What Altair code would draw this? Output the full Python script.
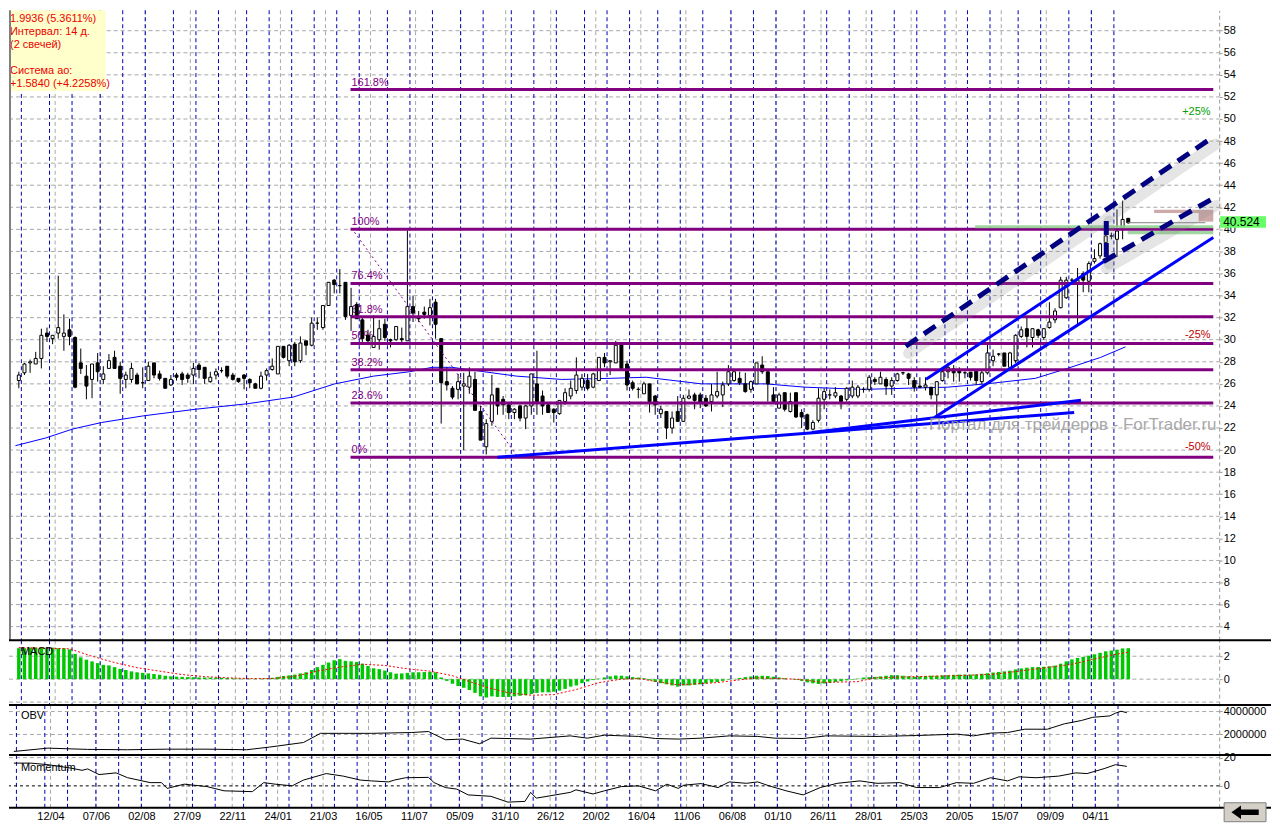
import altair as alt
import pandas as pd

# ---------------- data ----------------
date_labels = ["12/04", "07/06", "02/08", "27/09", "22/11", "24/01", "21/03", "16/05",
               "11/07", "05/09", "31/10", "26/12", "20/02", "16/04", "11/06", "06/08",
               "01/10", "26/11", "28/01", "25/03", "20/05", "15/07", "09/09", "04/11"]
label_first = 6
label_step = 8
month_starts = [0, 5, 9, 14, 18, 22, 27, 31, 35, 40, 44, 48, 52, 56, 60, 65, 69, 73, 78, 82,
                87, 91, 95, 100, 104, 108, 113, 117, 121, 126, 130, 134, 139, 143, 147, 151,
                155, 159, 164, 168, 172, 177, 181, 186, 190, 194]
grid_shift = 0.45

opens = [26.3, 27.0, 27.9, 27.8, 28.3, 30.6, 30.1, 30.6, 30.3, 30.9,
         30.2, 27.9, 26.7, 26.4, 27.9, 26.4, 27.4, 28.4, 27.6, 26.4,
         26.4, 26.8, 26.1, 26.3, 27.9, 26.9, 26.5, 25.9, 26.8, 26.9,
         26.8, 26.8, 27.7, 27.5, 26.2, 26.8, 27.2, 27.6, 26.8, 26.5,
         26.8, 26.4, 26.0, 25.6, 26.8, 27.3, 26.9, 29.4, 28.1, 29.6,
         28.1, 29.9, 29.5, 31.5, 31.1, 33.1, 35.4, 34.9, 35.2, 32.2,
         33.2, 31.8, 30.4, 29.3, 30.0, 31.4, 30.0, 30.0, 30.1, 29.9,
         33.0, 32.1, 32.5, 32.2, 33.4, 30.1, 26.2, 25.6, 25.5, 25.8,
         25.7, 26.4, 23.5, 20.3, 22.6, 25.6, 24.6, 24.1, 23.4, 24.0,
         22.9, 24.0, 26.0, 24.9, 24.1, 23.7, 23.3, 24.4, 24.9, 25.4,
         25.7, 26.3, 25.7, 26.3, 28.4, 28.0, 27.9, 29.6, 27.8, 26.1,
         25.5, 25.1, 26.0, 24.9, 23.3, 23.5, 22.0, 23.5, 22.6, 24.7,
         25.0, 25.0, 24.7, 24.4, 24.9, 25.0, 26.0, 26.3, 26.5, 26.0,
         25.5, 26.0, 27.7, 27.1, 25.0, 23.8, 25.2, 23.5, 25.2, 23.4,
         23.2, 21.9, 22.7, 24.6, 25.0, 24.9, 24.9, 24.6, 24.9, 24.9,
         25.5, 25.5, 26.4, 26.0, 26.4, 25.8, 26.3, 27.0, 26.9, 26.3,
         25.8, 25.7, 25.7, 25.0, 26.3, 27.1, 27.35, 27.15, 27.0, 27.06,
         27.15, 26.2, 27.0, 28.1, 28.7, 28.8, 27.5, 28.1, 30.3, 31.0,
         30.2, 30.9, 30.2, 31.1, 31.8, 32.9, 33.8, 35.4, 35.2, 36.0,
         35.3, 37.1, 37.6, 38.8, 39.4, 39.1, 40.1, 41.0]
highs = [27.1, 27.9, 28.2, 28.9, 31.0, 31.1, 30.4, 35.8, 32.3, 31.9,
         30.3, 29.2, 27.7, 27.8, 28.8, 27.6, 28.7, 29.0, 28.0, 27.1,
         27.9, 27.0, 27.5, 28.0, 27.9, 27.2, 26.5, 26.8, 27.0, 27.1,
         27.0, 27.9, 27.9, 27.5, 27.1, 27.4, 27.5, 27.6, 27.0, 26.5,
         26.9, 26.5, 26.1, 27.1, 27.4, 28.3, 29.4, 29.4, 29.6, 29.8,
         30.3, 29.9, 32.0, 32.0, 33.1, 35.2, 35.5, 36.4, 35.2, 34.7,
         33.4, 32.1, 30.9, 32.2, 31.8, 31.9, 30.1, 31.2, 31.1, 39.9,
         34.0, 32.6, 33.0, 33.7, 33.7, 30.1, 27.5, 25.8, 26.9, 27.0,
         27.5, 27.1, 24.0, 22.8, 26.8, 25.6, 24.9, 24.3, 23.8, 24.1,
         24.1, 26.9, 29.0, 25.4, 24.3, 23.8, 24.5, 25.6, 26.3, 28.4,
         26.9, 26.9, 27.0, 28.4, 28.8, 28.1, 29.9, 29.6, 28.1, 26.3,
         25.7, 26.2, 26.0, 25.0, 24.0, 23.5, 23.5, 24.9, 25.0, 25.5,
         25.2, 25.2, 25.0, 26.0, 27.1, 26.2, 27.7, 27.1, 27.1, 27.0,
         26.3, 27.9, 28.5, 27.1, 25.7, 25.2, 25.2, 25.2, 25.2, 23.7,
         23.3, 22.7, 25.6, 25.6, 25.5, 25.7, 25.0, 25.7, 26.3, 25.9,
         25.7, 26.8, 26.6, 27.1, 26.6, 26.6, 27.0, 27.1, 27.0, 26.6,
         26.6, 26.6, 25.7, 26.2, 27.3, 27.9, 27.7, 27.5, 27.15, 27.06,
         27.15, 27.2, 29.7, 29.1, 28.8, 28.8, 28.9, 30.5, 31.2, 32.0,
         31.0, 31.0, 31.0, 33.4, 32.85, 35.7, 35.7, 35.6, 36.5, 36.2,
         37.1, 38.2, 38.8, 40.1, 39.7, 41.8, 42.6, 41.0]
lows = [25.6, 26.8, 27.0, 27.8, 27.4, 29.8, 29.6, 30.1, 29.0, 29.5,
        25.6, 26.9, 24.6, 24.7, 26.2, 26.0, 27.4, 27.4, 25.1, 25.6,
        26.1, 26.0, 25.6, 26.3, 26.5, 26.3, 25.6, 25.8, 26.3, 25.9,
        26.1, 26.0, 26.5, 26.0, 26.1, 26.4, 27.0, 26.5, 26.3, 26.1,
        25.5, 25.6, 25.6, 25.5, 26.3, 27.2, 26.9, 28.3, 27.6, 27.6,
        27.9, 28.6, 29.4, 30.9, 30.9, 33.1, 34.2, 34.2, 31.8, 30.8,
        31.9, 29.8, 29.7, 29.3, 29.1, 29.9, 29.3, 29.9, 29.8, 29.9,
        31.6, 31.6, 31.9, 31.3, 30.1, 22.4, 25.4, 24.6, 24.6, 20.0,
        25.1, 23.6, 20.9, 19.6, 22.2, 23.2, 23.2, 22.8, 22.8, 22.6,
        21.9, 23.2, 23.2, 23.2, 23.4, 22.5, 23.2, 24.1, 24.6, 25.1,
        25.4, 25.4, 25.6, 26.3, 27.5, 26.8, 27.9, 27.4, 25.4, 25.4,
        24.7, 25.1, 23.4, 23.2, 22.9, 21.0, 21.5, 22.6, 22.6, 24.6,
        23.7, 23.8, 23.9, 23.5, 24.7, 23.9, 25.8, 26.2, 25.9, 25.2,
        25.2, 26.0, 26.9, 24.4, 24.4, 23.8, 23.5, 23.4, 22.9, 22.0,
        21.8, 21.8, 22.5, 23.7, 24.6, 24.7, 23.7, 24.4, 24.7, 24.7,
        25.2, 25.3, 25.9, 26.0, 25.0, 25.0, 26.2, 26.8, 25.9, 25.3,
        25.6, 25.4, 24.6, 23.0, 26.2, 26.5, 26.2, 26.2, 26.5, 26.3,
        25.9, 26.0, 26.85, 27.6, 28.5, 27.6, 27.4, 27.9, 30.15, 29.3,
        29.3, 30.15, 30.0, 31.0, 31.5, 32.85, 33.7, 35.0, 31.3, 34.3,
        34.3, 36.9, 37.35, 38.7, 39.1, 37.5, 39.1, 40.5]
closes = [26.8, 27.8, 28.0, 28.3, 30.4, 30.3, 30.4, 31.1, 30.6, 30.3,
          25.7, 27.4, 25.8, 27.8, 27.1, 26.9, 28.1, 27.4, 26.5, 26.8,
          27.4, 26.0, 26.1, 27.6, 26.8, 26.5, 25.6, 26.4, 26.6, 26.4,
          26.5, 27.4, 27.3, 26.5, 26.6, 27.1, 27.2, 26.7, 26.4, 26.2,
          26.5, 26.1, 25.6, 26.7, 27.2, 27.6, 29.4, 28.4, 29.5, 28.0,
          29.7, 29.5, 31.5, 31.5, 33.1, 35.2, 35.0, 34.9, 32.1, 33.0,
          31.9, 30.1, 29.9, 30.3, 31.0, 30.2, 29.9, 31.2, 30.0, 33.0,
          32.4, 31.9, 32.3, 32.9, 31.4, 26.1, 25.9, 24.8, 26.2, 26.0,
          26.7, 23.6, 20.9, 22.4, 25.0, 24.0, 24.1, 23.4, 23.7, 22.9,
          24.0, 26.9, 24.4, 24.0, 23.4, 23.4, 24.5, 25.2, 25.6, 26.8,
          26.5, 25.6, 26.9, 28.4, 27.9, 28.1, 29.5, 27.4, 25.9, 25.6,
          25.5, 26.0, 24.4, 24.1, 23.7, 22.0, 22.9, 22.6, 24.7, 24.9,
          24.5, 24.3, 24.0, 25.0, 25.3, 25.9, 27.1, 27.1, 26.1, 25.3,
          26.2, 27.9, 27.1, 26.0, 24.4, 25.0, 23.7, 24.4, 23.0, 23.0,
          21.9, 22.5, 24.7, 25.3, 25.0, 25.2, 24.4, 25.6, 25.7, 25.7,
          25.5, 26.6, 26.2, 26.6, 25.8, 26.3, 26.9, 27.0, 26.5, 25.7,
          25.7, 25.9, 25.0, 26.2, 27.1, 27.5, 27.0, 27.0, 27.0, 26.6,
          26.3, 27.0, 28.8, 28.5, 28.7, 27.6, 28.8, 30.4, 30.9, 30.3,
          31.0, 30.4, 31.0, 31.6, 32.6, 35.4, 35.4, 35.4, 35.4, 35.4,
          36.9, 37.35, 38.7, 39.4, 39.4, 39.85, 40.9, 40.6]

ma_idx = [-0.6, 4.8, 9.5, 14.7, 22.1, 31.4, 40.6, 48.7, 56.1, 63, 69.4, 73.4, 76.9, 82.6,
          88.4, 96.4, 105, 111.4, 121.2, 132.6, 139.6, 149.9, 164.9, 171.8, 180.5, 186.2,
          192.1, 196.5]
ma_val = [20.4, 21.1, 21.9, 22.5, 23.1, 23.7, 24.2, 24.8, 26.0, 26.7, 27.1, 27.5, 27.5, 27.1,
          26.7, 26.4, 26.5, 26.6, 26.0, 26.0, 25.7, 25.5, 25.7, 26.0, 26.5, 27.4, 28.4, 29.35]

fib_names = ["0%", "23.6%", "38.2%", "50%", "61.8%", "76.4%", "100%", "161.8%"]
fib_levels = [19.36, 24.26, 27.27, 29.66, 32.09, 35.1, 40.0, 52.67]
fib_from = 58.9
fib_to = 212.1
fib_diag_idx = [59.6, 88.4]
fib_diag_val = [39.74, 19.53]

solid_id = ["a", "a", "b", "b", "c", "c", "d", "d"]
solid_x = [85.0, 187.4, 140.8, 188.6, 162.6, 212.1, 161.1, 193.2]
solid_y = [19.35, 23.41, 21.6, 24.52, 22.95, 39.27, 26.41, 37.26]

dash_id = ["u", "u", "l", "l", "v", "v"]
dash_x = [157.5, 212.1, 192.6, 212.1, 193.1, 193.1]
dash_y = [29.41, 48.38, 37.09, 42.82, 37.5, 41.4]

green_x1 = [169.8, 196.9]
green_x2 = [212.1, 212.1]
green_y1 = [40.09, 39.56]
green_y2 = [40.38, 39.85]
pink_x1 = [201.6, 209.5]
pink_x2 = [212.1, 212.1]
pink_y1 = [41.48, 40.7]
pink_y2 = [41.77, 41.5]
gray_mark_x = [196.9, 210.7]
gray_mark_y = [40.6, 40.6]

macd_hist = [2.7, 2.7, 2.75, 2.75, 2.75, 2.75, 2.75, 2.7, 2.7, 2.6,
             2.2, 1.9, 1.7, 1.55, 1.4, 1.25, 1.2, 1.05, 0.9, 0.8,
             0.68, 0.6, 0.55, 0.5, 0.45, 0.38, 0.3, 0.25, 0.22, 0.2,
             0.18, 0.17, 0.15, 0.15, 0.14, 0.13, 0.12, 0.1, 0.08, 0.06,
             0.05, 0.05, 0.04, 0.05, 0.07, 0.12, 0.2, 0.28, 0.33, 0.4,
             0.5, 0.6, 0.8, 1.05, 1.25, 1.45, 1.65, 1.75, 1.6, 1.55,
             1.5, 1.35, 1.15, 0.95, 0.88, 0.75, 0.6, 0.48, 0.5, 0.55,
             0.6, 0.6, 0.62, 0.63, 0.6, 0.15, -0.15, -0.4, -0.6, -0.75,
             -0.95, -1.2, -1.5, -1.6, -1.5, -1.55, -1.55, -1.55, -1.5, -1.45,
             -1.4, -1.3, -1.2, -1.15, -1.15, -1.1, -1.0, -0.85, -0.65, -0.55,
             -0.35, -0.2, -0.08, 0.05, 0.15, 0.25, 0.32, 0.3, 0.25, 0.18,
             0.14, 0.08, -0.1, -0.25, -0.35, -0.45, -0.55, -0.65, -0.55, -0.55,
             -0.5, -0.45, -0.38, -0.3, -0.25, -0.15, -0.05, 0.03, 0.1, 0.18,
             0.24, 0.3, 0.3, 0.28, 0.22, 0.15, 0.08, 0.0, -0.06, -0.15,
             -0.28, -0.36, -0.42, -0.38, -0.32, -0.25, -0.18, -0.1, -0.05, 0.05,
             0.14, 0.18, 0.2, 0.24, 0.3, 0.35, 0.35, 0.3, 0.25, 0.2,
             0.24, 0.28, 0.3, 0.3, 0.33, 0.35, 0.38, 0.4, 0.4, 0.4,
             0.42, 0.47, 0.52, 0.58, 0.63, 0.68, 0.74, 0.85, 0.94, 1.0,
             1.05, 1.06, 1.08, 1.12, 1.18, 1.35, 1.55, 1.72, 1.85, 1.95,
             2.05, 2.17, 2.3, 2.43, 2.5, 2.57, 2.68, 2.7]
sig_idx = [0, 9, 13, 17, 21, 25, 29, 33, 37, 41, 45, 49, 53, 57, 61, 65, 69, 73, 77, 80,
           83, 87, 91, 95, 99, 103, 107, 110, 117, 124, 131, 138, 143, 149, 152, 159, 166,
           173, 180, 187, 194, 197]
sig_val = [2.75, 2.65, 2.0, 1.45, 1.0, 0.7, 0.4, 0.22, 0.12, 0.05, 0.06, 0.25, 0.7, 1.05,
           1.3, 1.2, 0.9, 0.7, 0.3, -0.2, -0.7, -1.2, -1.4, -1.35, -0.9, -0.3, 0.0, 0.05,
           -0.5, -0.3, 0.12, 0.0, -0.28, -0.22, 0.12, 0.22, 0.3, 0.42, 0.85, 1.3, 2.1, 2.35]

obv_idx = [0, 6, 13, 20, 27, 34, 41, 45, 51, 54, 63, 70, 73, 76, 79, 82, 84, 91, 98, 101,
           104, 110, 113, 117, 121, 126, 131, 134, 139, 143, 152, 159, 166, 169, 172, 175,
           178, 182, 185, 188, 190, 193, 194, 195, 196]
obv_val = [520000, 810000, 700000, 670000, 720000, 720000, 670000, 900000, 1300000, 2100000,
           2100000, 2170000, 2260000, 1540000, 1600000, 1190000, 1680000, 1600000, 1880000,
           1680000, 1940000, 1830000, 1650000, 1600000, 1680000, 1880000, 1830000, 1680000,
           1650000, 1880000, 1830000, 1910000, 2030000, 1880000, 2120000, 2170000, 2460000,
           2460000, 2930000, 3220000, 3500000, 3620000, 3860000, 4030000, 3900000]

mom_idx = [0, 3, 6, 10, 12, 13, 15, 18, 20, 24, 26, 27, 30, 34, 37, 42, 44, 46, 49, 51,
           55, 58, 61, 63, 66, 67, 69, 73, 74, 76, 78, 80, 84, 87, 90, 91, 92, 98, 99, 102,
           104, 107, 110, 113, 115, 117, 118, 121, 124, 126, 129, 131, 133, 136, 139, 142,
           145, 149, 152, 156, 159, 163, 166, 169, 172, 175, 177, 180, 184, 187, 189, 192,
           194, 196]
mom_val = [16.1, 16.1, 15, 12.6, 11, 12, 8, 9.2, 5.8, 2.3, 2.3, -1.8, 1.2, -0.5, -3.5, -4.1,
           2.3, 1.2, 0, 4.1, 8.7, 6.9, 4.1, 3.5, 2.8, 4.1, 5.75, 6, 2.3, -1.2, -2.3, -6.4,
           -7.4, -11.5, -11, -4.6, -8.7, -4.6, -2.8, -5.75, -3.5, -0.5, 0, -3.5, 1.2, -1.8,
           0.5, 1.6, -1.2, 2.8, 1.8, 2.8, 0, -3.5, -6.4, -1.2, 1.8, 3.5, 1.8, 2.3, -1.2, -1.2,
           2.3, 1.8, 5.75, 3.5, 6.4, 5.75, 6.9, 9.2, 8.7, 12.2, 15, 13.8]

price_ticks = [4, 6, 8, 10, 12, 14, 16, 18, 20, 22, 24, 26, 28, 30, 32, 34, 36, 38, 40, 42,
               44, 46, 48, 50, 52, 54, 56, 58]
macd_ticks = [0, 2]
macd_grid = [-2, 0, 2]
obv_ticks = [2000000, 4000000]
mom_ticks = [0, 20]
mom_grid = [20]

last_price_text = "40.524"
last_price_box = [40.15, 41.18]
plus_names = ["+25%"]
plus_levels = [50.66]
minus_names = ["-25%", "-50%"]
minus_levels = [30.39, 20.26]
pct_x = 211.6

info_block1 = ["1.9936 (5.3611%)", "Интервал: 14 д.", "(2 свечей)"]
info_block2 = ["Система ао:", "+1.5840 (+4.2258%)"]
watermark = "Портал для трейдеров - ForTrader.ru"
watermark_pos = (161.6, 22.27)

# ---------------- layout ----------------
W = 1214
H_MAIN, H_MACD, H_OBV, H_MOM = 632, 65, 50, 53
FONT = "Liberation Sans"
GRID = "#a8a8a8"

xs = alt.Scale(domain=[-0.86, 212.26], nice=False, zero=False)
ys_main = alt.Scale(domain=[2.765, 59.85], nice=False, zero=False)
ys_macd = alt.Scale(domain=[-2.26, 3.39], nice=False, zero=False)
ys_obv = alt.Scale(domain=[217000, 4565000], nice=False, zero=False)
ys_mom = alt.Scale(domain=[-15.5, 21.9], nice=False, zero=False)


def right_axis(values, fmt=None):
    kw = dict(orient="right", values=values, grid=False,
              domain=True, domainColor="#9a9a9a", domainDash=[4, 3], ticks=True, tickSize=3,
              tickColor="#9a9a9a", labelPadding=1, labelFont=FONT, labelFontSize=11,
              labelColor="black", title=None, labelFlush=False)
    if fmt:
        kw["format"] = fmt
    return alt.Axis(**kw)


label_values = [label_first + label_step * k + grid_shift for k in range(len(date_labels))]
js_labels = "[" + ",".join(f"'{d}'" for d in date_labels) + "]"
bottom_axis = alt.Axis(values=label_values,
                       labelExpr=f"{js_labels}[round((datum.value - {label_first + grid_shift}) / {label_step})]",
                       ticks=False, domain=False, grid=False, labelPadding=3, labelFont=FONT,
                       labelFontSize=11, labelColor="black", title=None, labelFlush=False,
                       labelOverlap=False)

one = pd.DataFrame({"k": [0]})
gray_df = pd.DataFrame({"x": label_values})
blue_df = pd.DataFrame({"x": [m + grid_shift for m in month_starts]})


class Panel:
    def __init__(self, yscale, yaxis, hgrid, xaxis=None):
        self.yscale, self.yaxis, self.hgrid, self.xaxis = yscale, yaxis, hgrid, xaxis

    def X(self, field):
        return alt.X(f"{field}:Q", scale=xs, axis=self.xaxis)

    def Y(self, field):
        return alt.Y(f"{field}:Q", scale=self.yscale, axis=self.yaxis)

    def grids(self):
        h = alt.Chart(pd.DataFrame({"v": self.hgrid})).mark_rule(
            color=GRID, strokeDash=[4, 3], strokeWidth=1).encode(
            x=alt.value(0), x2=alt.value(W), y=self.Y("v"))
        g = alt.Chart(gray_df).mark_rule(color=GRID, strokeDash=[4, 3]).encode(x=self.X("x"))
        b = alt.Chart(blue_df).mark_rule(color="#0000b4", strokeDash=[4, 3]).encode(x=self.X("x"))
        return [h, g, b]


def separator(y):
    return alt.Chart(one).mark_rule(color="black", strokeWidth=2).encode(
        x=alt.value(0), x2=alt.value(W + 52), y=alt.value(y))


def panel_title(text, y):
    return alt.Chart(pd.DataFrame({"t": [text]})).mark_text(
        align="left", baseline="middle", font=FONT, fontSize=11, color="black").encode(
        x=alt.value(12), y=alt.value(y), text="t:N")


def info_text(lines, top):
    return alt.Chart(pd.DataFrame({"t": ["\n".join(lines)]})).mark_text(
        align="left", baseline="top", lineBreak="\n", lineHeight=12.8, font=FONT, fontSize=11,
        color="#ee0000").encode(x=alt.value(1), y=alt.value(top), text="t:N")


# ---------------- main price panel ----------------
P = Panel(ys_main, right_axis(price_ticks), price_ticks)
cdf = pd.DataFrame({"i": list(range(len(opens))), "o": opens, "h": highs, "l": lows, "c": closes})
cdf["dir"] = ["up" if c >= o else "down" for o, c in zip(opens, closes)]

ma_df = pd.DataFrame({"x": ma_idx, "y": ma_val})
fib_df = pd.DataFrame({"name": fib_names, "y": fib_levels, "x1": fib_from, "x2": fib_to})
fibd_df = pd.DataFrame({"x": fib_diag_idx, "y": fib_diag_val})
solid_df = pd.DataFrame({"id": solid_id, "x": solid_x, "y": solid_y})
dash_df = pd.DataFrame({"id": dash_id, "x": dash_x, "y": dash_y})
shadow_df = pd.DataFrame({"id": dash_id, "x": [v + 0.5 for v in dash_x],
                          "y": [v - 0.65 for v in dash_y]})
green_df = pd.DataFrame({"x1": green_x1, "x2": green_x2, "y1": green_y1, "y2": green_y2})
pink_df = pd.DataFrame({"x1": pink_x1, "x2": pink_x2, "y1": pink_y1, "y2": pink_y2})
gm_df = pd.DataFrame({"x": gray_mark_x, "y": gray_mark_y})
plus_df = pd.DataFrame({"t": plus_names, "y": plus_levels, "x": pct_x})
minus_df = pd.DataFrame({"t": minus_names, "y": minus_levels, "x": pct_x})

layers_main = P.grids()
layers_main.append(alt.Chart(ma_df).mark_line(color="#0000ff", strokeWidth=1).encode(
    x=P.X("x"), y=P.Y("y")))
layers_main.append(alt.Chart(fib_df).mark_text(
    align="left", baseline="bottom", dx=1, dy=-2, font=FONT, fontSize=11, color="#800080").encode(
    x=P.X("x1"), y=P.Y("y"), text="name:N"))
layers_main.append(alt.Chart(cdf).mark_rule(color="black", strokeWidth=1).encode(
    x=P.X("i"), y=P.Y("l"), y2="h:Q"))
layers_main.append(alt.Chart(cdf).mark_bar(width=3, stroke="black", strokeWidth=1).encode(
    x=P.X("i"), y=P.Y("o"), y2="c:Q",
    fill=alt.Fill("dir:N", scale=alt.Scale(domain=["up", "down"], range=["white", "black"]),
                  legend=None)))
layers_main.append(alt.Chart(fib_df).mark_rule(color="#800080", strokeWidth=3).encode(
    x=P.X("x1"), x2="x2:Q", y=P.Y("y")))
layers_main.append(alt.Chart(fibd_df).mark_line(color="#800080", strokeWidth=1,
                                                 strokeDash=[2, 3]).encode(x=P.X("x"), y=P.Y("y")))
layers_main.append(alt.Chart(green_df).mark_rect(color="#8fd08f", opacity=0.85).encode(
    x=P.X("x1"), x2="x2:Q", y=P.Y("y1"), y2="y2:Q"))
layers_main.append(alt.Chart(pink_df).mark_rect(color="#c8a0a0", opacity=0.9).encode(
    x=P.X("x1"), x2="x2:Q", y=P.Y("y1"), y2="y2:Q"))
layers_main.append(alt.Chart(gm_df).mark_line(color="#808080", strokeWidth=1).encode(
    x=P.X("x"), y=P.Y("y")))
layers_main.append(alt.Chart(shadow_df).mark_line(color="#8a8a8a", strokeWidth=11, opacity=0.22,
                                                   strokeCap="round").encode(
    x=P.X("x"), y=P.Y("y"), detail="id:N"))
layers_main.append(alt.Chart(solid_df).mark_line(color="#0000ff", strokeWidth=3).encode(
    x=P.X("x"), y=P.Y("y"), detail="id:N"))
layers_main.append(alt.Chart(dash_df).mark_line(color="#000080", strokeWidth=5,
                                                 strokeDash=[14, 8]).encode(
    x=P.X("x"), y=P.Y("y"), detail="id:N"))
layers_main.append(alt.Chart(pd.DataFrame({"t": [watermark], "x": [watermark_pos[0]],
                                           "y": [watermark_pos[1]]})).mark_text(
    align="left", baseline="middle", font=FONT, fontSize=17, color="#9a9a9a", opacity=0.85).encode(
    x=P.X("x"), y=P.Y("y"), text="t:N"))
layers_main.append(alt.Chart(plus_df).mark_text(
    align="right", baseline="middle", font=FONT, fontSize=11, color="#00a000").encode(
    x=P.X("x"), y=P.Y("y"), text="t:N"))
layers_main.append(alt.Chart(minus_df).mark_text(
    align="right", baseline="middle", font=FONT, fontSize=11, color="#c00000").encode(
    x=P.X("x"), y=P.Y("y"), text="t:N"))
layers_main.append(alt.Chart(pd.DataFrame({"y1": [last_price_box[0]],
                                           "y2": [last_price_box[1]]})).mark_rect(
    color="#66ff66").encode(x=alt.value(W + 1), x2=alt.value(W + 47), y=P.Y("y1"), y2="y2:Q"))
layers_main.append(alt.Chart(pd.DataFrame({"t": [last_price_text],
                                           "y": [sum(last_price_box) / 2]})).mark_text(
    align="left", baseline="middle", font=FONT, fontSize=12, color="black").encode(
    x=alt.value(W + 4), y=P.Y("y"), text="t:N"))
layers_main.append(alt.Chart(one).mark_rect(color="#ffffcc").encode(
    x=alt.value(0), x2=alt.value(97), y=alt.value(0), y2=alt.value(81)))
layers_main.append(info_text(info_block1, 3))
layers_main.append(info_text(info_block2, 55))
layers_main.append(alt.Chart(one).mark_rule(color="#808080", strokeWidth=2).encode(
    x=alt.value(1), y=alt.value(0), y2=alt.value(H_MAIN)))

main = alt.layer(*layers_main).properties(width=W, height=H_MAIN)

# ---------------- MACD ----------------
M = Panel(ys_macd, right_axis(macd_ticks), macd_grid)
macd_df = pd.DataFrame({"i": list(range(len(macd_hist))), "v": macd_hist, "z": 0.0})
sig_df = pd.DataFrame({"x": sig_idx, "y": sig_val})
layers_macd = M.grids()
layers_macd.append(alt.Chart(macd_df).mark_bar(width=3.5, color="#00c800").encode(
    x=M.X("i"), y=M.Y("v"), y2="z:Q"))
layers_macd.append(alt.Chart(sig_df).mark_line(color="#ff0000", strokeWidth=1,
                                                strokeDash=[2, 2]).encode(x=M.X("x"), y=M.Y("y")))
layers_macd.append(separator(0))
layers_macd.append(panel_title("MACD", 12))
macd = alt.layer(*layers_macd).properties(width=W, height=H_MACD)

# ---------------- OBV ----------------
O = Panel(ys_obv, right_axis(obv_ticks, fmt="d"), obv_ticks)
obv_df = pd.DataFrame({"x": obv_idx, "y": obv_val})
layers_obv = O.grids()
layers_obv.append(alt.Chart(obv_df).mark_line(color="black", strokeWidth=1).encode(
    x=O.X("x"), y=O.Y("y")))
layers_obv.append(separator(0))
layers_obv.append(panel_title("OBV", 11))
obv = alt.layer(*layers_obv).properties(width=W, height=H_OBV)

# ---------------- Momentum ----------------
Mo = Panel(ys_mom, right_axis(mom_ticks), mom_grid, xaxis=bottom_axis)
mom_df = pd.DataFrame({"x": mom_idx, "y": mom_val})
layers_mom = Mo.grids()
layers_mom.append(alt.Chart(pd.DataFrame({"z": [0.0]})).mark_rule(
    color="black", strokeDash=[3, 3]).encode(y=Mo.Y("z")))
layers_mom.append(alt.Chart(mom_df).mark_line(color="black", strokeWidth=1).encode(
    x=Mo.X("x"), y=Mo.Y("y")))
layers_mom.append(separator(0))
layers_mom.append(separator(H_MOM))
layers_mom.append(panel_title("Momentum", 13))
layers_mom.append(alt.Chart(one).mark_rect(color="#d4d0c8", stroke="#808080",
                                           strokeWidth=1).encode(
    x=alt.value(W + 5), x2=alt.value(W + 47), y=alt.value(H_MOM - 5), y2=alt.value(H_MOM + 14)))
layers_mom.append(alt.Chart(one).mark_point(
    shape="M -1 0 L -0.3 -0.5 L -0.3 -0.2 L 1 -0.2 L 1 0.2 L -0.3 0.2 L -0.3 0.5 Z",
    size=750, filled=True, color="black", opacity=1).encode(
    x=alt.value(W + 26), y=alt.value(H_MOM + 4.5)))
mom = alt.layer(*layers_mom).properties(width=W, height=H_MOM)

chart = alt.vconcat(main, macd, obv, mom, spacing=0, bounds="flush").resolve_scale(
    x="independent", y="independent").properties(padding=0).configure_view(stroke=None)

chart.save("out.html", embed_options={"renderer": "svg", "actions": False})
